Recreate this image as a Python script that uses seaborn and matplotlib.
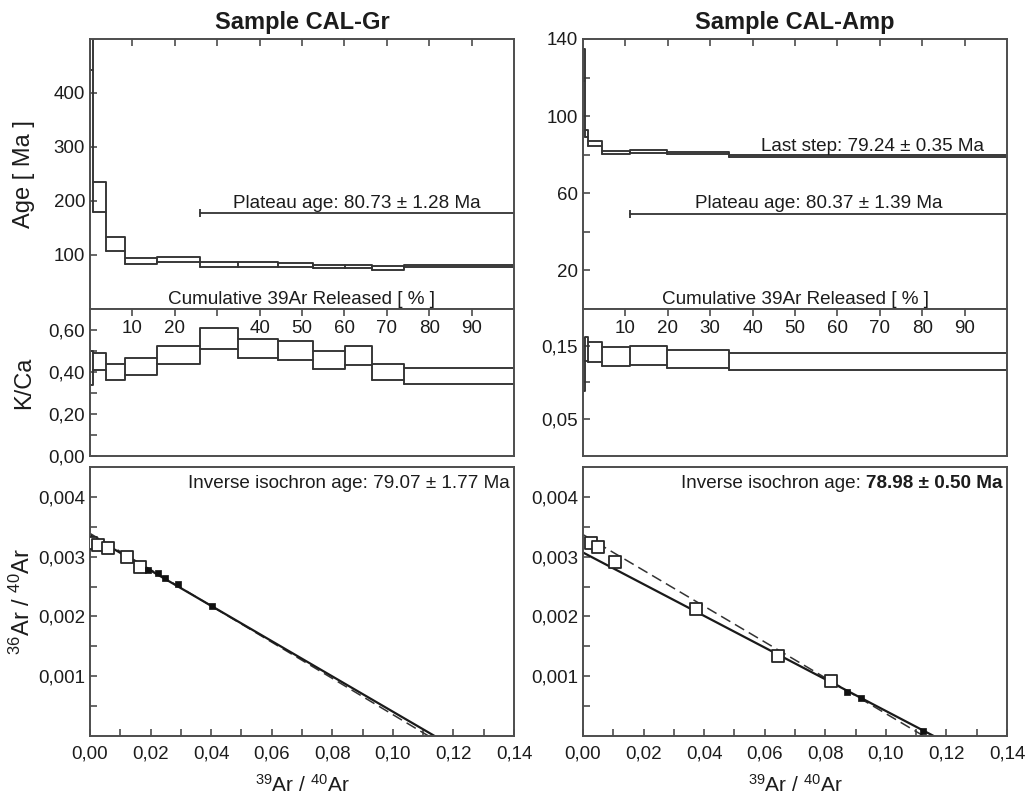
import numpy as np
import pandas as pd
import matplotlib
matplotlib.use('Agg')
import matplotlib.pyplot as plt
import seaborn as sns

# ---------------- data ----------------
titles = ['Sample CAL-Gr', 'Sample CAL-Amp']

# cumulative 39Ar released boundaries [%]
gr_cum = [0, 0.8, 3.8, 8.3, 15.9, 25.9, 34.8, 44.4, 52.6, 60.1, 66.4, 74.1, 100]
gr_age_lo = [443, 179, 107, 83.4, 86.5, 77.8, 77.8, 77.2, 76.0, 75.0, 73.0, 78.0]
gr_age_hi = [520, 235, 134, 94.6, 96.0, 86.5, 86.5, 84.6, 82.0, 81.0, 79.0, 81.0]
gr_kca_lo = [0.337, 0.410, 0.364, 0.388, 0.438, 0.509, 0.465, 0.457, 0.412, 0.433, 0.364, 0.342]
gr_kca_hi = [0.500, 0.490, 0.438, 0.465, 0.524, 0.608, 0.555, 0.547, 0.500, 0.524, 0.438, 0.417]

amp_cum = [0, 0.5, 1.25, 4.55, 11.1, 19.9, 34.5, 100]
amp_age_lo = [118, 89.0, 84.5, 80.4, 81.0, 80.2, 79.0]
amp_age_hi = [135, 93.0, 87.0, 81.7, 82.2, 81.2, 79.6]
amp_kca_lo = [0.088, 0.129, 0.128, 0.122, 0.124, 0.120, 0.117]
amp_kca_hi = [0.161, 0.162, 0.155, 0.148, 0.149, 0.144, 0.140]

# plateau annotations
gr_plateau_text = 'Plateau age: 80.73 ± 1.28 Ma'
gr_plateau_start = 25.9
amp_plateau_text = 'Plateau age: 80.37 ± 1.39 Ma'
amp_plateau_start = 11.1
amp_last_text = 'Last step: 79.24 ± 0.35 Ma'

# inverse isochron data
gr_open_x = [0.0004, 0.0027, 0.0059, 0.0121, 0.0165]
gr_open_y = [0.00323, 0.00320, 0.00314, 0.00300, 0.00282]
gr_fill_x = [0.0192, 0.0224, 0.0249, 0.0291, 0.0404]
gr_fill_y = [0.00278, 0.00273, 0.00264, 0.00254, 0.00217]
gr_fit_x = [0.0, 0.1138]
gr_fit_y = [0.00336, 0.0]
gr_ref_x = [0.0, 0.1118]
gr_ref_y = [0.00339, 0.0]

amp_open_x = [0.0025, 0.0049, 0.0104, 0.0373, 0.0645, 0.0818]
amp_open_y = [0.00323, 0.00316, 0.00291, 0.00213, 0.00134, 0.00092]
amp_fill_x = [0.0873, 0.0918, 0.1123]
amp_fill_y = [0.00074, 0.00064, 0.00008]
amp_fit_x = [0.0, 0.1158]
amp_fit_y = [0.00307, 0.0]
amp_ref_x = [0.0, 0.1125]
amp_ref_y = [0.00337, 0.0]

gr_iso_text = 'Inverse isochron age: 79.07 ± 1.77 Ma'
amp_iso_text_a = 'Inverse isochron age: '
amp_iso_text_b = '78.98 ± 0.50 Ma'

# ticks
cum_ticks = [10, 20, 30, 40, 50, 60, 70, 80, 90]
gr_cum_labels = ['10', '20', '', '40', '50', '60', '70', '80', '90']
amp_cum_labels = ['10', '20', '30', '40', '50', '60', '70', '80', '90']
gr_age_ticks = [100, 200, 300, 400]
gr_age_labels = ['100', '200', '300', '400']
amp_age_ticks = [20, 40, 60, 80, 100, 120, 140]
amp_age_labels = ['20', '', '60', '', '100', '', '140']
gr_kca_ticks = [0.0, 0.2, 0.4, 0.6]
gr_kca_labels = ['0,00', '0,20', '0,40', '0,60']
gr_kca_minor = [0.1, 0.3, 0.5]
amp_kca_ticks = [0.05, 0.15]
amp_kca_labels = ['0,05', '0,15']
amp_kca_minor = [0.10]
iso_x_ticks = [0.0, 0.02, 0.04, 0.06, 0.08, 0.10, 0.12, 0.14]
iso_x_labels = ['0,00', '0,02', '0,04', '0,06', '0,08', '0,10', '0,12', '0,14']
iso_x_minor = [0.01, 0.03, 0.05, 0.07, 0.09, 0.11, 0.13]
iso_y_ticks = [0.001, 0.002, 0.003, 0.004]
iso_y_labels = ['0,001', '0,002', '0,003', '0,004']
iso_y_minor = [0.0005, 0.0015, 0.0025, 0.0035]

# ---------------- style ----------------
sns.set_theme(style='ticks')
plt.rcParams['font.family'] = ['Liberation Sans', 'DejaVu Sans']
plt.rcParams['mathtext.default'] = 'regular'
TXT = '#1c1c1c'
LINE = '#333333'
SPINE = '#4d4d4d'
ANN = 13.6
plt.rcParams.update({
    'text.color': TXT, 'axes.labelcolor': TXT,
    'xtick.color': SPINE, 'ytick.color': SPINE,
    'xtick.labelcolor': TXT, 'ytick.labelcolor': TXT,
    'axes.edgecolor': SPINE, 'axes.linewidth': 1.4,
    'xtick.labelsize': 13.5, 'ytick.labelsize': 13.5,
})

fig = plt.figure(figsize=(10.33, 7.97), dpi=100)

col_left = [0.0871, 0.5644]
col_w = 0.4105
top_rect = (0.6123, 0.3388)
mid_rect = (0.4279, 0.1844)
bot_rect = (0.0765, 0.3375)


def draw_spectrum(ax, cum, lo, hi):
    # individual step boxes
    rows = []
    for i in range(len(lo)):
        x0, x1 = cum[i], cum[i + 1]
        for k, (xx, yy) in enumerate([(x0, lo[i]), (x1, lo[i]), (x1, hi[i]), (x0, hi[i]), (x0, lo[i])]):
            rows.append({'step': i, 'order': k, 'x': xx, 'y': yy})
    df = pd.DataFrame(rows)
    sns.lineplot(data=df, x='x', y='y', units='step', estimator=None, sort=False,
                 color=LINE, lw=1.1, ax=ax, legend=False)
    # connected upper / lower staircases
    env = pd.DataFrame({'x': cum, 'lo': list(lo) + [lo[-1]], 'hi': list(hi) + [hi[-1]]})
    for col in ('lo', 'hi'):
        sns.lineplot(data=env, x='x', y=col, estimator=None, sort=False,
                     drawstyle='steps-post', color=LINE, lw=1.1, ax=ax)


def style_ticks(ax):
    ax.tick_params(axis='both', which='both', direction='in', length=5, width=1.2)


cols = [
    dict(cum=gr_cum, age_lo=gr_age_lo, age_hi=gr_age_hi, kca_lo=gr_kca_lo, kca_hi=gr_kca_hi,
         age_ylim=(0, 500), age_ticks=gr_age_ticks, age_labels=gr_age_labels,
         kca_ylim=(0, 0.70), kca_ticks=gr_kca_ticks, kca_labels=gr_kca_labels, kca_minor=gr_kca_minor,
         cum_labels=gr_cum_labels, plateau_text=gr_plateau_text, plateau_start=gr_plateau_start,
         plateau_y=177, plateau_text_xy=(63.0, 187),
         open_x=gr_open_x, open_y=gr_open_y, fill_x=gr_fill_x, fill_y=gr_fill_y,
         fit_x=gr_fit_x, fit_y=gr_fit_y, ref_x=gr_ref_x, ref_y=gr_ref_y),
    dict(cum=amp_cum, age_lo=amp_age_lo, age_hi=amp_age_hi, kca_lo=amp_kca_lo, kca_hi=amp_kca_hi,
         age_ylim=(0, 140), age_ticks=amp_age_ticks, age_labels=amp_age_labels,
         kca_ylim=(0, 0.20), kca_ticks=amp_kca_ticks, kca_labels=amp_kca_labels, kca_minor=amp_kca_minor,
         cum_labels=amp_cum_labels, plateau_text=amp_plateau_text, plateau_start=amp_plateau_start,
         plateau_y=49.1, plateau_text_xy=(55.7, 52.2),
         open_x=amp_open_x, open_y=amp_open_y, fill_x=amp_fill_x, fill_y=amp_fill_y,
         fit_x=amp_fit_x, fit_y=amp_fit_y, ref_x=amp_ref_x, ref_y=amp_ref_y),
]

for ci, c in enumerate(cols):
    x0 = col_left[ci]
    ax_age = fig.add_axes([x0, top_rect[0], col_w, top_rect[1]])
    ax_kca = fig.add_axes([x0, mid_rect[0], col_w, mid_rect[1]])
    ax_iso = fig.add_axes([x0, bot_rect[0], col_w, bot_rect[1]])
    for a in (ax_age, ax_kca, ax_iso):
        a.set_facecolor('white')
        for s in a.spines.values():
            s.set_visible(True)

    # ---- age spectrum ----
    draw_spectrum(ax_age, c['cum'], c['age_lo'], c['age_hi'])
    ax_age.set_xlim(0, 100)
    ax_age.set_ylim(*c['age_ylim'])
    ax_age.set_xticks(cum_ticks)
    ax_age.set_yticks(c['age_ticks'], c['age_labels'])
    style_ticks(ax_age)
    ax_age.tick_params(axis='x', top=True, bottom=False, labeltop=False, labelbottom=False)
    ax_age.set_xlabel('')
    ax_age.set_ylabel('')
    ax_age.plot([c['plateau_start'], 100], [c['plateau_y'], c['plateau_y']], color=LINE, lw=1.3)
    ax_age.plot([c['plateau_start']], [c['plateau_y']], marker='|', ms=6, mew=1.3, color=LINE)
    ax_age.text(c['plateau_text_xy'][0], c['plateau_text_xy'][1], c['plateau_text'],
                ha='center', va='baseline', fontsize=ANN)
    ax_age.text(50, 0.004 * c['age_ylim'][1], 'Cumulative 39Ar Released [ % ]',
                ha='center', va='bottom', fontsize=ANN)
    if ci == 1:
        ax_age.text(68.3, 82.1, amp_last_text, ha='center', va='baseline', fontsize=ANN)
    ax_age.set_title(titles[ci], fontsize=17, fontweight='bold', pad=7)

    # ---- K/Ca ----
    draw_spectrum(ax_kca, c['cum'], c['kca_lo'], c['kca_hi'])
    ax_kca.set_xlim(0, 100)
    ax_kca.set_ylim(*c['kca_ylim'])
    ax_kca.set_xticks(cum_ticks, c['cum_labels'])
    ax_kca.set_yticks(c['kca_ticks'], c['kca_labels'])
    ax_kca.set_yticks(c['kca_minor'], minor=True)
    style_ticks(ax_kca)
    ax_kca.tick_params(axis='x', top=True, bottom=False, labeltop=True, labelbottom=False, pad=-20)
    ax_kca.set_xlabel('')
    ax_kca.set_ylabel('')

    # ---- inverse isochron ----
    sns.lineplot(x=c['ref_x'], y=c['ref_y'], ax=ax_iso, color=LINE, lw=1.1,
                 linestyle=(0, (7, 3.5)), estimator=None, sort=False)
    sns.lineplot(x=c['fit_x'], y=c['fit_y'], ax=ax_iso, color='#1a1a1a', lw=1.6,
                 estimator=None, sort=False)
    sns.scatterplot(x=c['open_x'], y=c['open_y'], ax=ax_iso, marker='s', s=72,
                    facecolor='white', edgecolor='#262626', linewidth=1.3, zorder=4)
    sns.scatterplot(x=c['fill_x'], y=c['fill_y'], ax=ax_iso, marker='s', s=24,
                    color='#111111', edgecolor='#111111', linewidth=0.5, zorder=4)
    ax_iso.set_xlim(0, 0.14)
    ax_iso.set_ylim(0, 0.0045)
    ax_iso.set_xticks(iso_x_ticks, iso_x_labels)
    ax_iso.set_xticks(iso_x_minor, minor=True)
    ax_iso.set_yticks(iso_y_ticks, iso_y_labels)
    ax_iso.set_yticks(iso_y_minor, minor=True)
    style_ticks(ax_iso)
    ax_iso.tick_params(axis='x', which='major', pad=7)
    ax_iso.set_xlabel(r'$^{39}$Ar / $^{40}$Ar', fontsize=15)
    ax_iso.xaxis.set_label_coords(0.5, -0.14)
    ax_iso.set_ylabel('')

    if ci == 0:
        ax_iso.text(0.99, 0.922, gr_iso_text, transform=ax_iso.transAxes,
                    ha='right', va='baseline', fontsize=ANN)
        ax_age.set_ylabel('Age [ Ma ]', fontsize=17)
        ax_kca.set_ylabel('K/Ca', fontsize=17)
        ax_iso.set_ylabel(r'$^{36}$Ar / $^{40}$Ar', fontsize=17)
        for a in (ax_age, ax_kca, ax_iso):
            a.yaxis.set_label_coords(-0.13, 0.5)
    else:
        tb = ax_iso.text(0.99, 0.922, amp_iso_text_b, transform=ax_iso.transAxes,
                         ha='right', va='baseline', fontsize=ANN, fontweight='bold')
        fig.canvas.draw()
        bb = tb.get_window_extent()
        inv = ax_iso.transAxes.inverted()
        left_ax = inv.transform((bb.x0, bb.y0))[0]
        ax_iso.text(left_ax, 0.922, amp_iso_text_a, transform=ax_iso.transAxes,
                    ha='right', va='baseline', fontsize=ANN)

fig.savefig('out.png', dpi=100, facecolor='white')
